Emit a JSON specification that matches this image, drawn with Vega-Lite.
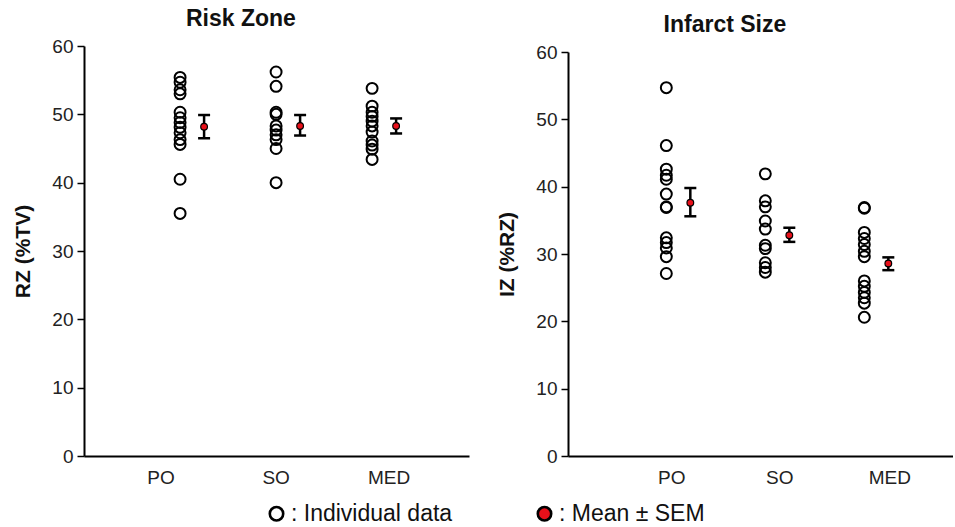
{
  "$schema": "https://vega.github.io/schema/vega-lite/v6.json",
  "background": "white",
  "padding": {"left": 12, "top": 8, "right": 0, "bottom": 0},
  "config": {
    "font": "Liberation Sans",
    "view": {"stroke": null},
    "axis": {"labelColor": "#222", "titleColor": "#111"}
  },
  "datasets": {
    "rz": [
      {"g": "PO", "k": "Individual data", "v": 55.4},
      {"g": "PO", "k": "Individual data", "v": 54.7},
      {"g": "PO", "k": "Individual data", "v": 53.6},
      {"g": "PO", "k": "Individual data", "v": 53.0},
      {"g": "PO", "k": "Individual data", "v": 50.3},
      {"g": "PO", "k": "Individual data", "v": 49.5},
      {"g": "PO", "k": "Individual data", "v": 48.8},
      {"g": "PO", "k": "Individual data", "v": 48.1},
      {"g": "PO", "k": "Individual data", "v": 47.3},
      {"g": "PO", "k": "Individual data", "v": 46.3},
      {"g": "PO", "k": "Individual data", "v": 45.6},
      {"g": "PO", "k": "Individual data", "v": 40.5},
      {"g": "PO", "k": "Individual data", "v": 35.5},
      {"g": "SO", "k": "Individual data", "v": 56.2},
      {"g": "SO", "k": "Individual data", "v": 54.1},
      {"g": "SO", "k": "Individual data", "v": 50.3},
      {"g": "SO", "k": "Individual data", "v": 50.0},
      {"g": "SO", "k": "Individual data", "v": 48.3},
      {"g": "SO", "k": "Individual data", "v": 47.7},
      {"g": "SO", "k": "Individual data", "v": 47.0},
      {"g": "SO", "k": "Individual data", "v": 46.3},
      {"g": "SO", "k": "Individual data", "v": 45.0},
      {"g": "SO", "k": "Individual data", "v": 40.0},
      {"g": "MED", "k": "Individual data", "v": 53.8},
      {"g": "MED", "k": "Individual data", "v": 51.2},
      {"g": "MED", "k": "Individual data", "v": 50.3},
      {"g": "MED", "k": "Individual data", "v": 49.7},
      {"g": "MED", "k": "Individual data", "v": 49.0},
      {"g": "MED", "k": "Individual data", "v": 48.3},
      {"g": "MED", "k": "Individual data", "v": 47.4},
      {"g": "MED", "k": "Individual data", "v": 46.1},
      {"g": "MED", "k": "Individual data", "v": 45.5},
      {"g": "MED", "k": "Individual data", "v": 44.9},
      {"g": "MED", "k": "Individual data", "v": 43.4},
      {"g": "PO", "k": "Mean ± SEM", "v": 48.2, "lo": 46.5, "hi": 49.9},
      {"g": "SO", "k": "Mean ± SEM", "v": 48.3, "lo": 46.9, "hi": 49.9},
      {"g": "MED", "k": "Mean ± SEM", "v": 48.3, "lo": 47.2, "hi": 49.4}
    ],
    "iz": [
      {"g": "PO", "k": "Individual data", "v": 54.7},
      {"g": "PO", "k": "Individual data", "v": 46.1},
      {"g": "PO", "k": "Individual data", "v": 42.6},
      {"g": "PO", "k": "Individual data", "v": 41.7},
      {"g": "PO", "k": "Individual data", "v": 41.1},
      {"g": "PO", "k": "Individual data", "v": 38.9},
      {"g": "PO", "k": "Individual data", "v": 37.0},
      {"g": "PO", "k": "Individual data", "v": 36.9},
      {"g": "PO", "k": "Individual data", "v": 32.4},
      {"g": "PO", "k": "Individual data", "v": 31.7},
      {"g": "PO", "k": "Individual data", "v": 30.9},
      {"g": "PO", "k": "Individual data", "v": 29.6},
      {"g": "PO", "k": "Individual data", "v": 27.1},
      {"g": "SO", "k": "Individual data", "v": 41.9},
      {"g": "SO", "k": "Individual data", "v": 37.9},
      {"g": "SO", "k": "Individual data", "v": 37.0},
      {"g": "SO", "k": "Individual data", "v": 34.9},
      {"g": "SO", "k": "Individual data", "v": 33.7},
      {"g": "SO", "k": "Individual data", "v": 31.3},
      {"g": "SO", "k": "Individual data", "v": 30.8},
      {"g": "SO", "k": "Individual data", "v": 28.7},
      {"g": "SO", "k": "Individual data", "v": 28.0},
      {"g": "SO", "k": "Individual data", "v": 27.3},
      {"g": "MED", "k": "Individual data", "v": 36.9},
      {"g": "MED", "k": "Individual data", "v": 36.8},
      {"g": "MED", "k": "Individual data", "v": 33.2},
      {"g": "MED", "k": "Individual data", "v": 32.3},
      {"g": "MED", "k": "Individual data", "v": 31.4},
      {"g": "MED", "k": "Individual data", "v": 30.4},
      {"g": "MED", "k": "Individual data", "v": 29.6},
      {"g": "MED", "k": "Individual data", "v": 26.0},
      {"g": "MED", "k": "Individual data", "v": 25.2},
      {"g": "MED", "k": "Individual data", "v": 24.3},
      {"g": "MED", "k": "Individual data", "v": 23.5},
      {"g": "MED", "k": "Individual data", "v": 22.7},
      {"g": "MED", "k": "Individual data", "v": 20.6},
      {"g": "PO", "k": "Mean ± SEM", "v": 37.6, "lo": 35.6, "hi": 39.8},
      {"g": "SO", "k": "Mean ± SEM", "v": 32.8, "lo": 31.8, "hi": 33.9},
      {"g": "MED", "k": "Mean ± SEM", "v": 28.6, "lo": 27.6, "hi": 29.5}
    ]
  },
  "spacing": 27,
  "resolve": {"scale": {"fill": "shared"}, "legend": {"fill": "shared"}},
  "hconcat": [
    {
      "width": 385,
      "height": 410,
      "title": {"text": "Risk Zone", "fontSize": 23, "fontWeight": "bold", "anchor": "middle", "frame": "bounds", "offset": 6, "color": "#111"},
      "data": {"name": "rz"},
      "encoding": {
        "x": {"field": "g", "type": "nominal", "title": null,
          "scale": {"type": "band", "domain": ["PO", "SO", "MED"], "paddingInner": 0.5, "paddingOuter": 0.755, "align": 0.58},
          "axis": {"ticks": false, "domainWidth": 2, "domainColor": "black", "labelFontSize": 19, "labelPadding": 12, "labelAngle": 0,
            "labelOffset": {"condition": [{"test": "datum.value === 'PO'", "value": -31}, {"test": "datum.value === 'SO'", "value": -12}], "value": 5}}},
        "xOffset": {"field": "k", "type": "nominal", "scale": {"domain": ["Individual data", "Mean ± SEM"], "paddingInner": 0, "paddingOuter": 0}}
      },
      "layer": [
        {
          "transform": [{"filter": "datum.k === 'Individual data'"}],
          "mark": {"type": "point", "shape": "circle", "size": 120, "strokeWidth": 2, "stroke": "black", "filled": false, "opacity": 1},
          "encoding": {
            "y": {"field": "v", "type": "quantitative", "title": "RZ (%TV)",
              "scale": {"domain": [0, 60], "nice": false, "zero": true},
              "axis": {"values": [0, 10, 20, 30, 40, 50, 60], "grid": false, "tickSize": 7, "tickWidth": 1.5, "tickColor": "black", "domainWidth": 2, "domainColor": "black", "labelFontSize": 19, "labelPadding": 4, "titleFontSize": 21, "titleFontWeight": "bold", "titlePadding": 18}},
            "fill": {"field": "k", "type": "nominal", "scale": {"domain": ["Individual data", "Mean ± SEM"], "range": ["transparent", "#e8101a"]},
              "legend": {"orient": "none", "legendX": 181, "legendY": 456, "direction": "horizontal", "title": null, "labelFontSize": 23, "labelColor": "#111", "labelLimit": 400,
                "symbolSize": 180, "symbolStrokeWidth": 2.6, "symbolStrokeColor": "black", "symbolType": "circle", "columnPadding": 79, "labelOffset": 3,
                "labelExpr": "datum.label === 'Individual data' ? ': Individual data' : '\u00a0: Mean ± SEM'"}}
          }
        },
        {
          "transform": [{"filter": "datum.k === 'Mean ± SEM'"}],
          "mark": {"type": "rule", "color": "black", "strokeWidth": 2.5},
          "encoding": {"y": {"field": "lo", "type": "quantitative", "title": "RZ (%TV)"}, "y2": {"field": "hi"}}
        },
        {
          "transform": [{"filter": "datum.k === 'Mean ± SEM'"}],
          "mark": {"type": "tick", "color": "black", "size": 12, "thickness": 2.5, "orient": "horizontal", "opacity": 1},
          "encoding": {"y": {"field": "lo", "type": "quantitative", "title": "RZ (%TV)"}}
        },
        {
          "transform": [{"filter": "datum.k === 'Mean ± SEM'"}],
          "mark": {"type": "tick", "color": "black", "size": 12, "thickness": 2.5, "orient": "horizontal", "opacity": 1},
          "encoding": {"y": {"field": "hi", "type": "quantitative", "title": "RZ (%TV)"}}
        },
        {
          "transform": [{"filter": "datum.k === 'Mean ± SEM'"}],
          "mark": {"type": "point", "shape": "circle", "size": 45, "strokeWidth": 1.2, "stroke": "black", "filled": true, "opacity": 1},
          "encoding": {
            "y": {"field": "v", "type": "quantitative", "title": "RZ (%TV)"},
            "fill": {"field": "k", "type": "nominal"}
          }
        }
      ]
    },
    {
      "width": 385,
      "height": 410,
      "title": {"text": "Infarct Size", "fontSize": 23, "fontWeight": "bold", "anchor": "middle", "frame": "bounds", "offset": 6, "color": "#111"},
      "data": {"name": "iz"},
      "encoding": {
        "x": {"field": "g", "type": "nominal", "title": null,
          "scale": {"type": "band", "domain": ["PO", "SO", "MED"], "paddingInner": 0.495, "paddingOuter": 0.692, "align": 0.63},
          "axis": {"ticks": false, "domainWidth": 2, "domainColor": "black", "labelFontSize": 19, "labelPadding": 12, "labelAngle": 0,
            "labelOffset": {"condition": [{"test": "datum.value === 'PO'", "value": -7.5}, {"test": "datum.value === 'SO'", "value": 1.5}], "value": 12.5}}},
        "xOffset": {"field": "k", "type": "nominal", "scale": {"domain": ["Individual data", "Mean ± SEM"], "paddingInner": 0, "paddingOuter": 0}}
      },
      "layer": [
        {
          "transform": [{"filter": "datum.k === 'Individual data'"}],
          "mark": {"type": "point", "shape": "circle", "size": 120, "strokeWidth": 2, "stroke": "black", "filled": false, "opacity": 1},
          "encoding": {
            "y": {"field": "v", "type": "quantitative", "title": "IZ (%RZ)",
              "scale": {"domain": [0, 60], "nice": false, "zero": true, "range": [410, 6]},
              "axis": {"values": [0, 10, 20, 30, 40, 50, 60], "grid": false, "tickSize": 7, "tickWidth": 1.5, "tickColor": "black", "domainWidth": 2, "domainColor": "black", "labelFontSize": 19, "labelPadding": 4, "titleFontSize": 21, "titleFontWeight": "bold", "titlePadding": 18}},
            "fill": {"field": "k", "type": "nominal"}
          }
        },
        {
          "transform": [{"filter": "datum.k === 'Mean ± SEM'"}],
          "mark": {"type": "rule", "color": "black", "strokeWidth": 2.5},
          "encoding": {"y": {"field": "lo", "type": "quantitative", "title": "IZ (%RZ)"}, "y2": {"field": "hi"}}
        },
        {
          "transform": [{"filter": "datum.k === 'Mean ± SEM'"}],
          "mark": {"type": "tick", "color": "black", "size": 12, "thickness": 2.5, "orient": "horizontal", "opacity": 1},
          "encoding": {"y": {"field": "lo", "type": "quantitative", "title": "IZ (%RZ)"}}
        },
        {
          "transform": [{"filter": "datum.k === 'Mean ± SEM'"}],
          "mark": {"type": "tick", "color": "black", "size": 12, "thickness": 2.5, "orient": "horizontal", "opacity": 1},
          "encoding": {"y": {"field": "hi", "type": "quantitative", "title": "IZ (%RZ)"}}
        },
        {
          "transform": [{"filter": "datum.k === 'Mean ± SEM'"}],
          "mark": {"type": "point", "shape": "circle", "size": 45, "strokeWidth": 1.2, "stroke": "black", "filled": true, "opacity": 1},
          "encoding": {
            "y": {"field": "v", "type": "quantitative", "title": "IZ (%RZ)"},
            "fill": {"field": "k", "type": "nominal"}
          }
        }
      ]
    }
  ]
}
